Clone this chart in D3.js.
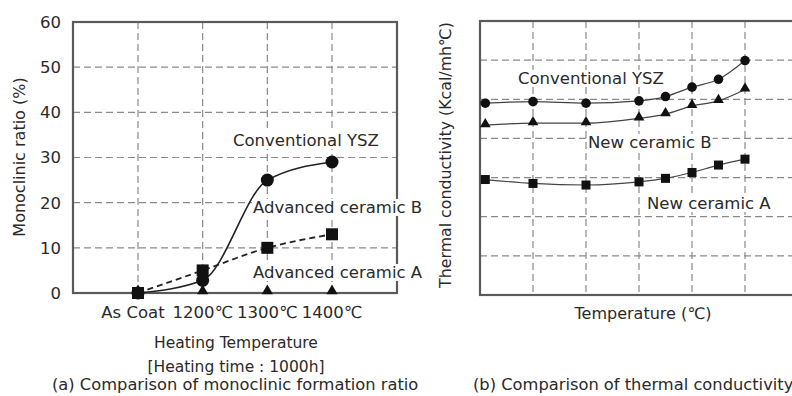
<!DOCTYPE html>
<html><head><meta charset="utf-8">
<script src="https://cdn.jsdelivr.net/npm/d3@7"></script>
<style>
html,body{margin:0;padding:0;background:#fff;}
svg{display:block;font-family:"DejaVu Sans",sans-serif;}
</style></head>
<body>
<script>
// ---- Panel (a) data ----
const heatCats = ["As Coat", "1200℃", "1300℃", "1400℃"];
const yszRatio = [0, 2.8, 25, 29];          // Conventional YSZ (circles, solid)
const ceramicARatio = [0, 5, 10, 13];       // squares, dashed
const ceramicBRatio = [0, 0, 0, 0];         // triangles
const ratioTicks = [0, 10, 20, 30, 40, 50, 60];

// ---- Panel (b) data ----
const tempIdx = [0.1, 1, 2, 3, 3.5, 4, 4.5, 5];
const yszCond = [4.90, 4.94, 4.90, 4.96, 5.07, 5.31, 5.51, 5.99];
const newBCond = [4.34, 4.39, 4.39, 4.51, 4.62, 4.83, 4.96, 5.25];
const newACond = [2.95, 2.85, 2.81, 2.89, 2.98, 3.13, 3.32, 3.47];
const condGrid = [1, 2, 3, 4, 5, 6];
const tempGrid = [1, 2, 3, 4, 5];

const W = 792, H = 396;
const svg = d3.select("body").append("svg").attr("width", W).attr("height", H);
const txt = "#2a2a2a", frame = "#5a5a5a", grid = "#8a8a8a";

// ================= Panel (a) =================
const aL = 73, aR = 397, aT = 22, aB = 293;
const xa = d3.scalePoint().domain(heatCats).range([138, 332]);
const ya = d3.scaleLinear().domain([0, 60]).range([aB, aT]);
const ga = svg.append("g");

// grid
ga.selectAll(".hg").data(ratioTicks.filter(d => d > 0 && d < 60)).join("line")
  .attr("x1", aL).attr("x2", aR).attr("y1", d => ya(d)).attr("y2", d => ya(d))
  .attr("stroke", grid).attr("stroke-width", 1.2).attr("stroke-dasharray", "7,4");
ga.selectAll(".vg").data(heatCats).join("line")
  .attr("x1", d => xa(d)).attr("x2", d => xa(d)).attr("y1", aT).attr("y2", aB)
  .attr("stroke", grid).attr("stroke-width", 1.2).attr("stroke-dasharray", "7,4");
// frame
ga.append("rect").attr("x", aL).attr("y", aT).attr("width", aR - aL).attr("height", aB - aT)
  .attr("fill", "none").attr("stroke", frame).attr("stroke-width", 2.2);

// y tick labels
ga.selectAll(".yt").data(ratioTicks).join("text")
  .attr("x", 61).attr("y", d => ya(d)).attr("dy", "0.36em").attr("text-anchor", "end")
  .attr("font-size", 16.5).attr("fill", txt).text(d => d);
// x tick labels
ga.selectAll(".xt").data(heatCats).join("text")
  .attr("x", (d, i) => xa(d) - (i === 0 ? 5 : 0)).attr("y", 318).attr("text-anchor", "middle")
  .attr("font-size", 16.5).attr("fill", txt).text(d => d);
ga.append("text").attr("transform", "translate(25,157) rotate(-90)").attr("text-anchor", "middle")
  .attr("font-size", 16).attr("fill", txt).text("Monoclinic ratio (%)");
ga.append("text").attr("x", 236).attr("y", 348).attr("text-anchor", "middle")
  .attr("font-size", 15.5).attr("fill", txt).text("Heating Temperature");
ga.append("text").attr("x", 236).attr("y", 372).attr("text-anchor", "middle")
  .attr("font-size", 15.5).attr("fill", txt).text("[Heating time : 1000h]");

// lines
const lineA = d3.line().x((d, i) => xa(heatCats[i])).y(d => ya(d)).curve(d3.curveMonotoneX);
ga.append("path").attr("d", lineA(ceramicARatio)).attr("fill", "none")
  .attr("stroke", "#222").attr("stroke-width", 1.8).attr("stroke-dasharray", "6,4");
ga.append("path").attr("d", lineA(yszRatio)).attr("fill", "none")
  .attr("stroke", "#222").attr("stroke-width", 1.6);

// labels with white background
function bgLabel(g, x, y, s, size) {
  const t = g.append("text").attr("x", x).attr("y", y).attr("dy", "0.36em")
    .attr("font-size", size).attr("fill", txt).text(s);
  const bb = t.node().getBBox();
  g.insert("rect", () => t.node()).attr("x", bb.x - 1).attr("y", bb.y + 1)
    .attr("width", bb.width + 2).attr("height", bb.height - 2).attr("fill", "#fff");
}
bgLabel(ga, 233, 140, "Conventional YSZ", 16.5);
bgLabel(ga, 253, 207, "Advanced ceramic B", 16.5);
bgLabel(ga, 253, 272, "Advanced ceramic A", 16.5);

// markers
const tri = d3.symbol().type(d3.symbolTriangle);
ga.selectAll(".tri").data(ceramicBRatio).join("path")
  .attr("d", tri.size(55)())
  .attr("transform", (d, i) => `translate(${xa(heatCats[i])},${ya(d) - 2})`).attr("fill", "#111");
ga.selectAll(".cir").data(yszRatio).join("circle")
  .attr("cx", (d, i) => xa(heatCats[i])).attr("cy", d => ya(d)).attr("r", 6.5).attr("fill", "#111");
ga.selectAll(".sq").data(ceramicARatio).join("rect")
  .attr("x", (d, i) => xa(heatCats[i]) - 6).attr("y", d => ya(d) - 6)
  .attr("width", 12).attr("height", 12).attr("fill", "#111");

ga.append("text").attr("x", 52).attr("y", 390).attr("font-size", 16.3).attr("fill", txt)
  .text("(a) Comparison of monoclinic formation ratio");

// ================= Panel (b) =================
const bL = 480, bR = 798, bT = 21, bB = 295;
const xb = d3.scaleLinear().domain([0, 6]).range([bL, bR]);
const yb = d3.scaleLinear().domain([0, 7]).range([bB, bT]);
const gb = svg.append("g");

gb.selectAll(".hg").data(condGrid).join("line")
  .attr("x1", bL).attr("x2", bR).attr("y1", d => yb(d)).attr("y2", d => yb(d))
  .attr("stroke", grid).attr("stroke-width", 1.2).attr("stroke-dasharray", "7,4");
gb.selectAll(".vg").data(tempGrid).join("line")
  .attr("x1", d => xb(d)).attr("x2", d => xb(d)).attr("y1", bT).attr("y2", bB)
  .attr("stroke", grid).attr("stroke-width", 1.2).attr("stroke-dasharray", "7,4");
gb.append("rect").attr("x", bL).attr("y", bT).attr("width", bR - bL).attr("height", bB - bT)
  .attr("fill", "none").attr("stroke", frame).attr("stroke-width", 2.2);

bgLabel(gb, 518, 78, "Conventional YSZ", 16.5);
bgLabel(gb, 588, 142, "New ceramic B", 16.5);
bgLabel(gb, 647, 203, "New ceramic A", 16.5);

const lineB = d3.line().x((d, i) => xb(tempIdx[i])).y(d => yb(d)).curve(d3.curveMonotoneX);
[yszCond, newBCond, newACond].forEach(s => {
  gb.append("path").attr("d", lineB(s)).attr("fill", "none").attr("stroke", "#444").attr("stroke-width", 1.2);
});
gb.selectAll(".cir").data(yszCond).join("circle")
  .attr("cx", (d, i) => xb(tempIdx[i])).attr("cy", d => yb(d)).attr("r", 4.8).attr("fill", "#111");
gb.selectAll(".tri").data(newBCond).join("path")
  .attr("d", tri.size(50)())
  .attr("transform", (d, i) => `translate(${xb(tempIdx[i])},${yb(d) - 1})`).attr("fill", "#111");
gb.selectAll(".sq").data(newACond).join("rect")
  .attr("x", (d, i) => xb(tempIdx[i]) - 4.5).attr("y", d => yb(d) - 4.5)
  .attr("width", 9).attr("height", 9).attr("fill", "#111");

gb.append("text").attr("transform", "translate(451,155) rotate(-90)").attr("text-anchor", "middle")
  .attr("font-size", 15.8).attr("fill", txt).text("Thermal conductivity (Kcal/mh℃)");
gb.append("text").attr("x", 643).attr("y", 319).attr("text-anchor", "middle")
  .attr("font-size", 16).attr("fill", txt).text("Temperature (℃)");
gb.append("text").attr("x", 473).attr("y", 390).attr("font-size", 16.3).attr("fill", txt)
  .text("(b) Comparison of thermal conductivity");
</script>
</body></html>
